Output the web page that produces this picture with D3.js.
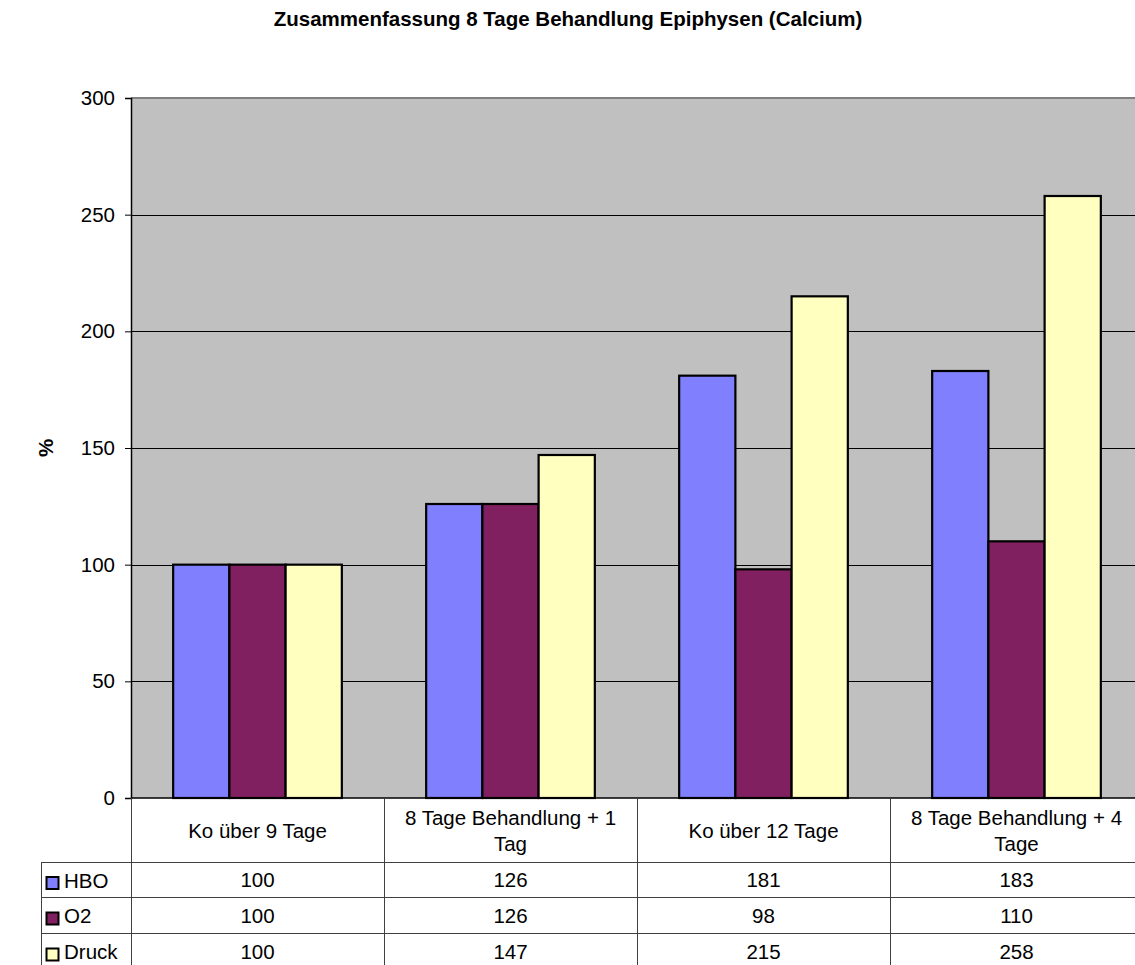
<!DOCTYPE html>
<html>
<head>
<meta charset="utf-8">
<script src="https://cdn.jsdelivr.net/npm/d3@7"></script>
<style>
  html, body { margin: 0; padding: 0; background: #fff; }
  svg { display: block; font-family: "Liberation Sans", Arial, sans-serif; }
</style>
</head>
<body>
<svg id="chart" width="1135" height="965"></svg>
<script>
// Kategorien (Zeilen der Datentabelle als Spalten)
const categories = [
  ["Ko über 9 Tage"],
  ["8 Tage Behandlung + 1", "Tag"],
  ["Ko über 12 Tage"],
  ["8 Tage Behandlung + 4", "Tage"]
];
const seriesNames = ["HBO", "O2", "Druck"];
const seriesColors = ["#8080FF", "#802060", "#FFFFC0"];
const hboValues = [100, 126, 181, 183];
const o2Values = [100, 126, 98, 110];
const druckValues = [100, 147, 215, 258];
const yTicks = [0, 50, 100, 150, 200, 250, 300];
const titleText = "Zusammenfassung 8 Tage Behandlung Epiphysen (Calcium)";
const yAxisTitle = "%";

const seriesValues = [hboValues, o2Values, druckValues];

const svg = d3.select("#chart");

const plot = { left: 131, top: 98, bottom: 798, right: 1143 };
const tableRows = [798, 862, 897, 933, 969];
const tableLeft = 41;
const fs = 20.5;

const catKeys = categories.map((c, i) => i);
const x0 = d3.scaleBand().domain(catKeys).range([plot.left, plot.right]).padding(0);
const x1 = d3.scaleBand().domain(seriesNames).range([0, x0.bandwidth()])
  .paddingInner(0).paddingOuter(0.75);
const y = d3.scaleLinear().domain([0, 300]).range([plot.bottom, plot.top]);

// Plotfläche
svg.append("rect")
  .attr("x", plot.left).attr("y", plot.top)
  .attr("width", plot.right - plot.left).attr("height", plot.bottom - plot.top)
  .attr("fill", "#C0C0C0");

// Gitternetzlinien
svg.append("g").selectAll("line")
  .data(yTicks.filter(t => t > 0 && t < 300))
  .join("line")
  .attr("x1", plot.left).attr("x2", plot.right)
  .attr("y1", d => Math.round(y(d)) + 0.5).attr("y2", d => Math.round(y(d)) + 0.5)
  .attr("stroke", "#000").attr("stroke-width", 1);

// Obere Begrenzung
svg.append("line")
  .attr("x1", plot.left).attr("x2", plot.right)
  .attr("y1", plot.top).attr("y2", plot.top)
  .attr("stroke", "#808080").attr("stroke-width", 2);

// Balken
const groups = svg.append("g").selectAll("g")
  .data(catKeys).join("g")
  .attr("transform", d => `translate(${x0(d)},0)`);

groups.selectAll("rect")
  .data(ci => seriesNames.map((s, si) => ({ s, si, v: seriesValues[si][ci] })))
  .join("rect")
  .attr("x", d => x1(d.s))
  .attr("y", d => y(d.v))
  .attr("width", x1.bandwidth())
  .attr("height", d => y(0) - y(d.v))
  .attr("fill", d => seriesColors[d.si])
  .attr("stroke", "#000")
  .attr("stroke-width", 2.2);

// Y-Achse
const yAxis = d3.axisLeft(y).tickValues(yTicks).tickSize(6).tickPadding(10)
  .tickFormat(d3.format("d"));
const yG = svg.append("g").attr("transform", `translate(${plot.left},0)`).call(yAxis);
yG.select(".domain").attr("stroke", "#000").attr("stroke-width", 1.5);
yG.selectAll(".tick line").attr("stroke", "#000");
yG.selectAll(".tick text")
  .attr("font-size", fs).attr("fill", "#000")
  .attr("font-family", "Liberation Sans, Arial, sans-serif");

// Achsentitel
svg.append("text")
  .attr("transform", `translate(53,${(plot.top + plot.bottom) / 2}) rotate(-90)`)
  .attr("text-anchor", "middle")
  .attr("font-size", fs).attr("font-weight", "bold")
  .text(yAxisTitle);

// Diagrammtitel
svg.append("text")
  .attr("x", 568).attr("y", 26)
  .attr("text-anchor", "middle")
  .attr("font-size", fs).attr("font-weight", "bold")
  .text(titleText);

// Datentabelle
const table = svg.append("g");
const lineColor = "#404040";

// horizontale Linien
[tableRows[1], tableRows[2], tableRows[3]].forEach(yy => {
  table.append("line")
    .attr("x1", tableLeft).attr("x2", plot.right)
    .attr("y1", yy + 0.5).attr("y2", yy + 0.5)
    .attr("stroke", lineColor).attr("stroke-width", 1);
});
// X-Achse
table.append("line")
  .attr("x1", plot.left).attr("x2", plot.right)
  .attr("y1", plot.bottom).attr("y2", plot.bottom)
  .attr("stroke", "#000").attr("stroke-width", 1.5);

// vertikale Linien
catKeys.forEach(ci => {
  const xx = Math.round(x0(ci)) + 0.5;
  table.append("line")
    .attr("x1", xx).attr("x2", xx)
    .attr("y1", plot.bottom).attr("y2", 965)
    .attr("stroke", lineColor).attr("stroke-width", 1);
});
table.append("line")
  .attr("x1", tableLeft + 0.5).attr("x2", tableLeft + 0.5)
  .attr("y1", tableRows[1]).attr("y2", 965)
  .attr("stroke", lineColor).attr("stroke-width", 1);

// Kategoriebeschriftungen
catKeys.forEach(ci => {
  const lines = categories[ci];
  const cx = x0(ci) + x0.bandwidth() / 2;
  const cy = (tableRows[0] + tableRows[1]) / 2;
  const lh = 26;
  const t = table.append("text")
    .attr("text-anchor", "middle")
    .attr("font-size", fs);
  lines.forEach((ln, li) => {
    t.append("tspan")
      .attr("x", cx)
      .attr("y", cy + (li - (lines.length - 1) / 2) * lh + 7.5)
      .text(ln);
  });
});

// Datenzeilen mit Legendensymbolen
seriesNames.forEach((s, si) => {
  const top = tableRows[si + 1], bot = tableRows[si + 2];
  const cy = (top + bot) / 2;
  table.append("rect")
    .attr("x", 46.5).attr("y", cy - 2.5)
    .attr("width", 12).attr("height", 12)
    .attr("fill", seriesColors[si])
    .attr("stroke", "#000").attr("stroke-width", 2);
  table.append("text")
    .attr("x", 64).attr("y", cy + 8)
    .attr("font-size", fs)
    .text(s);
  catKeys.forEach(ci => {
    table.append("text")
      .attr("x", x0(ci) + x0.bandwidth() / 2)
      .attr("y", cy + 7.5)
      .attr("text-anchor", "middle")
      .attr("font-size", fs)
      .text(seriesValues[si][ci]);
  });
});
</script>
</body>
</html>
